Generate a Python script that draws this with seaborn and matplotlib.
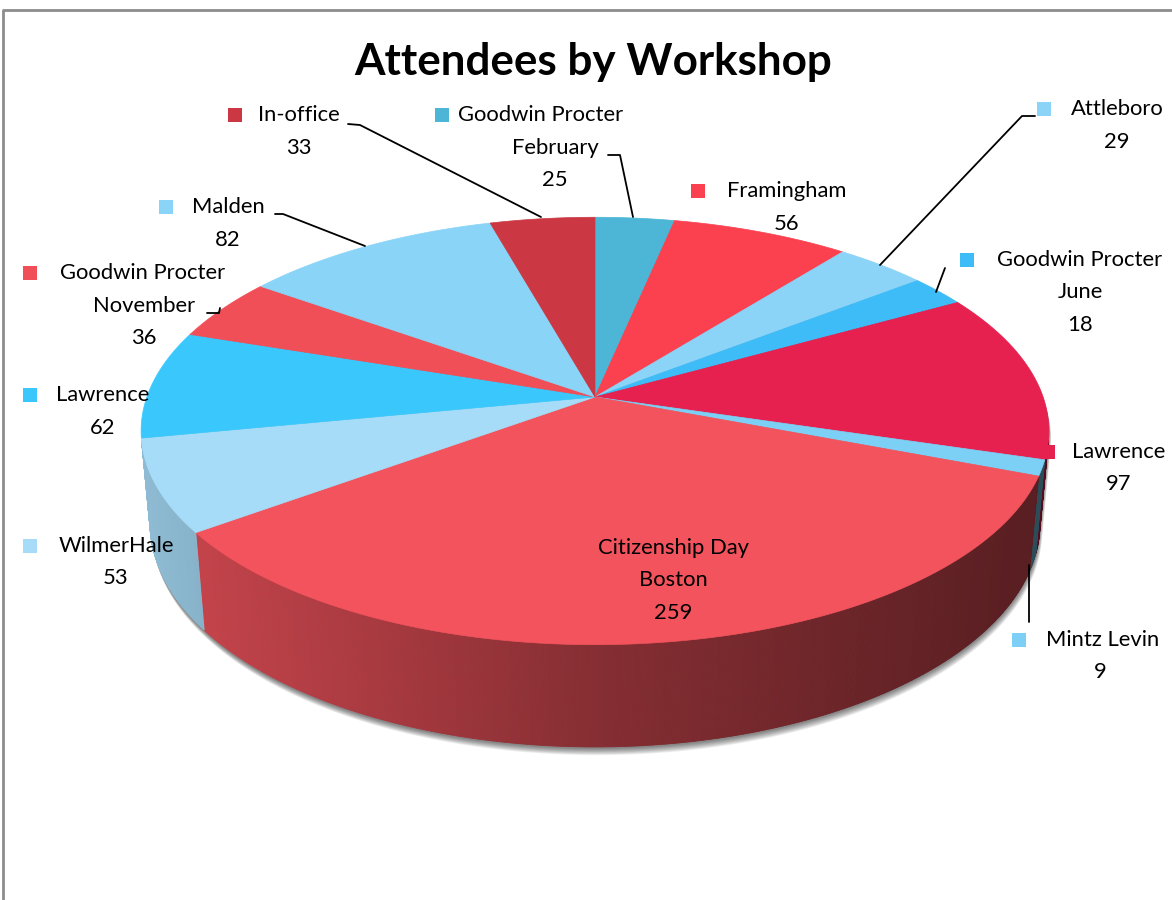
import numpy as np
import matplotlib
matplotlib.use("Agg")
import matplotlib.pyplot as plt
from matplotlib.patches import Polygon, Rectangle
import seaborn as sns

# ---- data -------------------------------------------------------------
workshops = ["Goodwin Procter\nFebruary", "Framingham", "Attleboro",
             "Goodwin Procter\nJune", "Lawrence", "Mintz Levin",
             "Citizenship Day\nBoston", "WilmerHale", "Lawrence",
             "Goodwin Procter\nNovember", "Malden", "In-office"]
attendees = [25, 56, 29, 18, 97, 9, 259, 53, 62, 36, 82, 33]
slice_colors = ["#4db6d6", "#fb404f", "#8bd3f7", "#3dbcf7", "#e6204f", "#7ccff5",
                "#f2535c", "#a7dcf8", "#3ac8fc", "#f04f58", "#8ad4f8", "#cb3844"]
title = "Attendees by Workshop"

# ---- label layout (pixels) -------------------------------------------
label_x1 = [541, 787, 1117, 1080, 1119, 1103, 673, 116, 103, 143, 228, 299]
label_x2 = [555, 787, 1117, 1080, 1119, 1100, 673, 116, 103, 144, 228, 299]
label_y = [115, 191, 109, 260, 452, 640, 548, 546, 395, 273, 207, 115]
marker_x = [442, 698, 1044, 967, 1048, 1019, 570, 30, 30, 30, 166, 235]
leaders = [
    [(608, 155), (620, 155), (633, 217)],
    None,
    [(1035, 116), (1022, 116), (880, 265)],
    [(945, 268), (936, 292)],
    None,
    [(1029, 565), (1029, 622)],
    None, None, None,
    [(207, 313), (219, 313), (220, 308)],
    [(275, 214), (283, 214), (365, 246)],
    [(348, 124), (360, 125), (541, 217)],
]

sns.set_theme(style="white")
plt.rcParams["font.family"] = ["Lato", "DejaVu Sans"]
palette = sns.color_palette(slice_colors)

W, H = 1172, 900
fig = plt.figure(figsize=(W / 100, H / 100), dpi=100)
ax = fig.add_axes([0, 0, 1, 1])
ax.set_xlim(0, W)
ax.set_ylim(H, 0)
ax.axis("off")

# chart frame
ax.plot([3, 3, W + 5], [H + 5, 10, 10], color="#8c8c8c", lw=2, zorder=0)

# ---- perspective projection of a flat cylinder ----------------------
CX, CY = 595, 397
phi = np.radians(27.7)
cs, sn = np.cos(phi), np.sin(phi)
DIST, FOC, DEPTH = 5.57, 2496.0, 0.234


def project(theta, z):
    X, Y = np.sin(theta), np.cos(theta)
    yc = Y * sn + z * cs
    zc = DIST + Y * cs - z * sn
    return CX + FOC * X / zc, CY - FOC * yc / zc


vals = np.array(attendees, dtype=float)
edges = np.concatenate([[0], np.cumsum(vals)]) / vals.sum() * 2 * np.pi

# wall visible where the outward normal faces the camera
lim = np.arccos(-1.0 / (DIST * cs))
vis_lo, vis_hi = lim, 2 * np.pi - lim

# soft drop shadow under the body
ts_top = np.linspace(vis_lo, vis_hi - 2 * np.pi, 300)
ts_bot = np.linspace(vis_hi, vis_lo, 300)
sx = np.concatenate([project(ts_top, 0)[0], project(ts_bot, -DEPTH)[0]])
sy = np.concatenate([project(ts_top, 0)[1], project(ts_bot, -DEPTH)[1]])
for k in range(9, 0, -1):
    ax.add_patch(Polygon(np.column_stack([sx + k * 0.25, sy + 1 + k * 0.8]),
                         closed=True, facecolor="#000000", alpha=0.065,
                         lw=0, zorder=1))

shade_x = [130, 200, 600, 1000, 1060]
shade_f = [0.86, 0.81, 0.55, 0.38, 0.36]

for i, (a, b) in enumerate(zip(edges[:-1], edges[1:])):
    lo, hi = max(a, vis_lo), min(b, vis_hi)
    if hi <= lo:
        continue
    base = np.array(palette[i])
    ts = np.linspace(lo, hi, max(3, int((hi - lo) / 0.004)))
    xt, yt = project(ts, 0)
    xb, yb = project(ts, -DEPTH)
    for j in range(len(ts) - 1):
        xm = 0.5 * (xt[j] + xt[j + 1])
        f = np.interp(xm, shade_x, shade_f)
        col = np.clip(base * f, 0, 1)
        quad = [(xt[j], yt[j]), (xt[j + 1], yt[j + 1]),
                (xb[j + 1], yb[j + 1]), (xb[j], yb[j])]
        ax.add_patch(Polygon(quad, closed=True, facecolor=col, edgecolor=col,
                             lw=0.6, zorder=2))

# top faces
for i, (a, b) in enumerate(zip(edges[:-1], edges[1:])):
    ts = np.linspace(a, b, max(4, int((b - a) / 0.005)))
    xt, yt = project(ts, 0)
    pts = np.column_stack([np.r_[CX, xt], np.r_[CY, yt]])
    ax.add_patch(Polygon(pts, closed=True, facecolor=palette[i],
                         edgecolor=palette[i], lw=0.5, zorder=3))

# ---- labels -----------------------------------------------------------
FS = 15.8
LS = 32.5
for i, name in enumerate(workshops):
    lines = name.split("\n") + [str(attendees[i])]
    for k, line in enumerate(lines):
        x = label_x1[i] if k == 0 else label_x2[i]
        ax.text(x, label_y[i] + k * LS, line, ha="center", va="center",
                fontsize=FS, color="black", zorder=6)
    ax.add_patch(Rectangle((marker_x[i] - 7, label_y[i] - 7), 14, 14,
                           facecolor=palette[i], lw=0, zorder=6))
    if leaders[i] is not None:
        lx, ly = zip(*leaders[i])
        ax.plot(lx, ly, color="black", lw=1.3, zorder=5)

ax.text(593, 62, title, ha="center", va="center", fontsize=31.7,
        fontweight="bold", color="black", zorder=6)

fig.savefig("out.png", dpi=100, facecolor="white")
